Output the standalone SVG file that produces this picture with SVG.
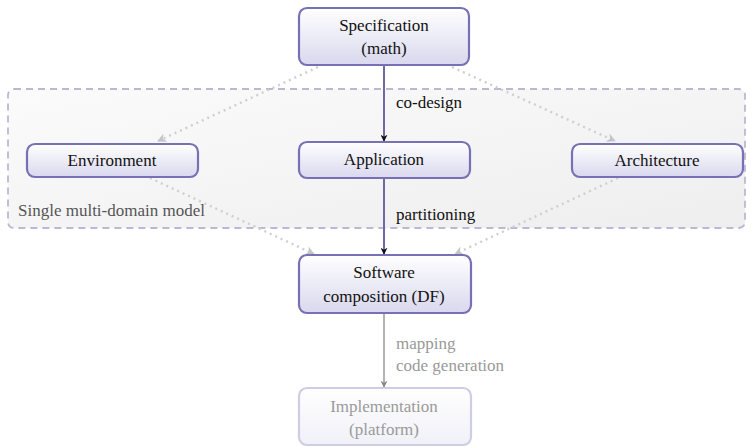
<svg xmlns="http://www.w3.org/2000/svg" width="753" height="447" viewBox="0 0 753 447">
<defs>
<linearGradient id="boxg" x1="0" y1="0" x2="0" y2="1">
<stop offset="0" stop-color="#ffffff"/>
<stop offset="1" stop-color="#d9d8ee"/>
</linearGradient>
<linearGradient id="fadeg" x1="0" y1="0" x2="0" y2="1">
<stop offset="0" stop-color="#ffffff"/>
<stop offset="1" stop-color="#f0f0f8"/>
</linearGradient>
<linearGradient id="regg" x1="0" y1="0" x2="1" y2="1">
<stop offset="0" stop-color="#fbfbfb"/>
<stop offset="1" stop-color="#eeeeee"/>
</linearGradient>
<marker id="ah" viewBox="0 0 10 10" refX="9" refY="5" markerWidth="7" markerHeight="7" orient="auto" markerUnits="userSpaceOnUse">
<path d="M0,0 L10,5 L0,10 L3,5 z" fill="#111"/>
</marker>
<marker id="ahg" viewBox="0 0 10 10" refX="9" refY="5" markerWidth="7" markerHeight="7" orient="auto" markerUnits="userSpaceOnUse">
<path d="M0,0 L10,5 L0,10 L3,5 z" fill="#888"/>
</marker>
<marker id="ahl" viewBox="0 0 10 10" refX="9" refY="5" markerWidth="9" markerHeight="9" orient="auto" markerUnits="userSpaceOnUse">
<path d="M0,0 L10,5 L0,10 L3,5 z" fill="#c4c4c4"/>
</marker>
</defs>
<style>
.box{fill:url(#boxg);stroke:#7670b4;stroke-width:2.2}
.fbox{fill:url(#fadeg);stroke:#cfcde4;stroke-width:2.2}
text{font-family:'Liberation Serif','Times New Roman',serif;font-size:17px}
.t{fill:#111;text-anchor:middle}
.ft{fill:#9a9a9a}
.lbl{fill:#111}
.glbl{fill:#555}
.llbl{fill:#999}
.solid{stroke:#6e68a8;stroke-width:2;fill:none}
.grey{stroke:#b4b4b4;stroke-width:2;fill:none}
.dot{stroke:#cfcfcf;stroke-width:2.4;stroke-dasharray:2 4;fill:none}
</style>
<g id="region">
<rect x="8" y="89" width="737" height="139" rx="6" fill="url(#regg)" stroke="#bcb8d4" stroke-width="1.8" stroke-dasharray="7 5"/>
<text class="lbl glbl" x="18" y="216">Single multi-domain model</text>
</g>
<g id="connectors">
<path class="dot" d="M318,67 L158,141" marker-end="url(#ahl)"/>
<path class="dot" d="M452,67 L615,141" marker-end="url(#ahl)"/>
<path class="dot" d="M150,178 L314,254" marker-end="url(#ahl)"/>
<path class="dot" d="M618,178 L455,254" marker-end="url(#ahl)"/>
<path class="solid" d="M384,66 L384,141" marker-end="url(#ah)"/>
<path class="solid" d="M384,179 L384,254" marker-end="url(#ah)"/>
<path class="grey" d="M384,313 L384,387" marker-end="url(#ahg)"/>
<text class="lbl" x="396" y="108">co-design</text>
<text class="lbl" x="396" y="220">partitioning</text>
<text class="lbl llbl" x="396" y="349">mapping</text>
<text class="lbl llbl" x="396" y="371">code generation</text>
</g>
<g id="spec">
<rect class="box" x="299" y="8" width="170" height="57" rx="8"/>
<text class="t" x="384" y="31">Specification</text>
<text class="t" x="384" y="54">(math)</text>
</g>
<g id="env">
<rect class="box" x="27" y="144" width="171" height="33" rx="8"/>
<text class="t" x="112" y="166">Environment</text>
</g>
<g id="app">
<rect class="box" x="299" y="142" width="171" height="36" rx="8"/>
<text class="t" x="384" y="165">Application</text>
</g>
<g id="arch">
<rect class="box" x="572" y="144" width="171" height="33" rx="8"/>
<text class="t" x="657" y="166">Architecture</text>
</g>
<g id="sw">
<rect class="box" x="299" y="255" width="172" height="58" rx="8"/>
<text class="t" x="384" y="278">Software</text>
<text class="t" x="384" y="302">composition (DF)</text>
</g>
<g id="impl">
<rect class="fbox" x="299" y="388" width="172" height="57" rx="8"/>
<text class="t ft" x="384" y="412">Implementation</text>
<text class="t ft" x="384" y="435">(platform)</text>
</g>
</svg>
